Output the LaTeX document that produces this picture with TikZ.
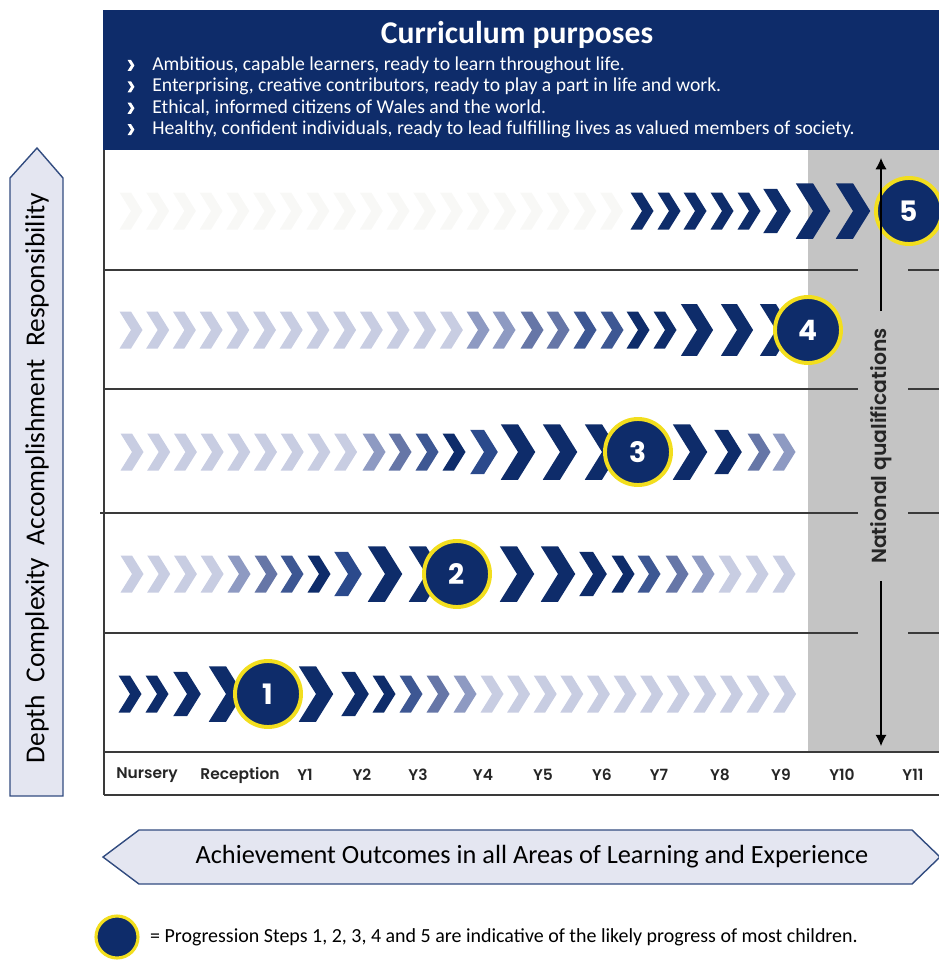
\documentclass[tikz,border=0pt]{standalone}
\usepackage{fontspec}
\setmainfont{Carlito}
\newfontfamily\geofont{Poppins SemiBold}
\newfontfamily\geoboldfont{Poppins Bold}
\usetikzlibrary{arrows.meta,positioning}

\definecolor{navy}{HTML}{0E2C6A}
\definecolor{midnavy}{HTML}{2B4A8C}
\definecolor{shadeB}{HTML}{3D5793}
\definecolor{shadeC}{HTML}{6676A7}
\definecolor{shadeD}{HTML}{8E9AC2}
\definecolor{shadeE}{HTML}{C8CDE2}
\definecolor{faintchev}{HTML}{F8F8F6}
\definecolor{ringyellow}{HTML}{F2DE1E}
\definecolor{qualgray}{HTML}{C4C4C4}
\definecolor{arrowfill}{HTML}{E4E6F1}
\definecolor{gridline}{HTML}{3A3A3A}

\begin{document}
\begin{tikzpicture}[x=0.025cm, y=-0.025cm, >={Latex[length=8pt,width=8pt]},
  chev/.pic = {\fill[pic actions] (-11.5,-18.5) -- (0,-18.5) -- (11.5,0) -- (0,18.5) -- (-11.5,18.5) -- (0,0) -- cycle;},
  stage/.style = {circle, fill=navy, draw=ringyellow, line width=2.8pt, minimum size=1.65cm, inner sep=0pt, text=white, font=\geoboldfont\fontsize{20}{20}\selectfont},
  rowline/.style = {draw=gridline, line width=1pt},
  yearlab/.style = {font=\geofont\fontsize{11}{12}\selectfont, text=black!85},
  natq/.style = {rotate=90, inner xsep=12pt, font=\geofont\fontsize{14.5}{14.5}\selectfont, text=black!85},
  bigarrow/.style = {fill=arrowfill, draw=navy!85, line width=1pt},
  bullettext/.style = {anchor=west, text=white, inner sep=0pt, font=\fontsize{14}{15}\selectfont}]
\useasboundingbox (0,0) rectangle (939,960);

% national qualifications column
\fill[qualgray] (808,150) rectangle (945,752);
\foreach \y in {270,389,633} {
  \draw[rowline] (104,\y) -- (858,\y);
  \draw[rowline] (908,\y) -- (945,\y);
}
\draw[rowline] (100,513) -- (858,513);
\draw[rowline] (908,513) -- (945,513);
\draw[rowline] (104,752) -- (945,752);
\draw[rowline] (104,795) -- (945,795);
\draw[rowline] (104,150) -- (104,795);

% row 1
\foreach \x/\s/\c in {130/1/navy, 157/1/navy, 187/1.2/navy, 226/1.5/navy, 316/1.5/navy, 355/1.2/navy, 384/1/navy, 411/1/shadeB, 438/1/shadeC, 465/1/shadeD}
  \pic[fill=\c, scale=\s] at (\x,694) {chev};
\foreach \x in {492,518.6,...,785}
  \pic[fill=shadeE] at (\x,694) {chev};
% row 2
\foreach \x in {132,158.7,...,213,730,757,784}
  \pic[fill=shadeE] at (\x,574) {chev};
\foreach \x/\s/\c in {239/1/shadeD, 266/1/shadeC, 292/1/shadeB, 319/1/navy, 348/1.2/midnavy, 385/1.5/navy, 426/1.5/navy, 517/1.5/navy, 558/1.5/navy, 593/1.2/navy, 623/1/navy, 649/1/shadeB, 677/1/shadeC, 703/1/shadeD}
  \pic[fill=\c, scale=\s] at (\x,574) {chev};
% row 3
\foreach \x in {132,158.7,...,347}
  \pic[fill=shadeE] at (\x,452) {chev};
\foreach \x/\s/\c in {374/1/shadeD, 400/1/shadeC, 427/1/shadeB, 454/1/navy, 484/1.2/midnavy, 518/1.5/navy, 560/1.5/navy, 602/1.5/navy, 690/1.5/navy, 728/1.2/navy, 759/1/shadeC, 784/1/shadeD}
  \pic[fill=\c, scale=\s] at (\x,452) {chev};
% row 4
\foreach \x in {131,157.7,...,452}
  \pic[fill=shadeE] at (\x,330) {chev};
\foreach \x/\s/\c in {478/1/shadeD, 504/1/shadeD, 532/1/shadeC, 558/1/shadeC, 585/1/shadeB, 612/1/shadeB, 638/1/navy, 665/1/navy, 697/1.4/navy, 737/1.4/navy, 776/1.4/navy}
  \pic[fill=\c, scale=\s] at (\x,330) {chev};
% row 5
\foreach \x in {131,157.7,...,612}
  \pic[fill=faintchev] at (\x,211) {chev};
\foreach \x/\s/\c in {642/1/navy, 669/1/navy, 695/1/navy, 722/1/navy, 749/1/navy, 777/1.2/navy, 813/1.5/navy, 853/1.5/navy}
  \pic[fill=\c, scale=\s] at (\x,211) {chev};

% progression steps
\node[stage] (s1) at (268,694) {1};
\node[stage] (s2) at (457,574) {2};
\node[stage] (s3) at (638,452) {3};
\node[stage] (s4) at (808,330) {4};
\node[stage] (s5) at (909,211) {5};

\node[natq] (nq) at (881,446) {National qualifications};
\coordinate (nqtop) at (881,158);
\coordinate (nqbot) at (881,746);
\draw[->, line width=0.9pt] (nq) -- (nqtop);
\draw[->, line width=0.9pt] (nq) -- (nqbot);

% curriculum purposes
\fill[navy] (103,10) rectangle (945,150);
\node[text=white, font=\bfseries\fontsize{22.5}{22.5}\selectfont] (cur) at (517,35) {Curriculum purposes};
\foreach \txt [count=\i] in {{Ambitious, capable learners, ready to learn throughout life.},{Enterprising, creative contributors, ready to play a part in life and work.},{Ethical, informed citizens of Wales and the world.},{Healthy, confident individuals, ready to lead fulfilling lives as valued members of society.}}
{
  \pic[fill=white, scale=0.3] at (131,{44+21.4*\i}) {chev};
  \node[bullettext] (cp\i) at (152,{44+21.4*\i}) {\txt};
}

% year axis
\foreach \lab/\x in {Nursery/147, Reception/240, Y1/305, Y2/362, Y3/418, Y4/483, Y5/543, Y6/602, Y7/659, Y8/720, Y9/781, Y10/842, Y11/913}
  \node[yearlab] (yr\lab) at (\x,775) {\lab};

% side and bottom arrows
\filldraw[bigarrow] (10,178) -- (37,148) -- (63,178) -- (63,796) -- (10,796) -- cycle;
\node[rotate=90, font=\fontsize{19.5}{19.5}\selectfont] (depth) at (37,478) {Depth\hspace{0.45em}Complexity\hspace{0.45em}Accomplishment\hspace{0.45em}Responsibility};
\filldraw[bigarrow] (103,857) -- (139,830) -- (912,830) -- (940,857) -- (912,884) -- (139,884) -- cycle;
\node[font=\fontsize{18.7}{18.7}\selectfont] (aole) at (532,857) {Achievement Outcomes in all Areas of Learning and Experience};

% legend
\node[circle, fill=navy, draw=ringyellow, line width=2.2pt, minimum size=1.05cm] (leg) at (117,937) {};
\node[right=4pt of leg, font=\fontsize{14.2}{15}\selectfont] (legtxt) {= Progression Steps 1, 2, 3, 4 and 5 are indicative of the likely progress of most children.};
\end{tikzpicture}
\end{document}
